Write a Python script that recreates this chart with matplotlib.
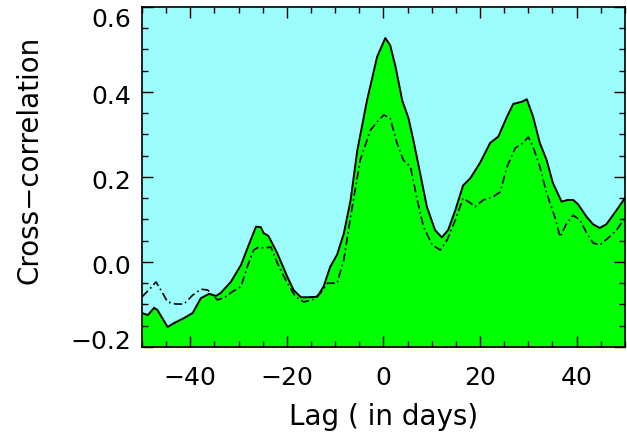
import numpy as np
import matplotlib
matplotlib.use("Agg")
import matplotlib.pyplot as plt
from matplotlib.ticker import MultipleLocator
from matplotlib.transforms import ScaledTranslation

# lag (days) and cross-correlation
lag_solid = [-50, -48.8, -47.5, -46.8, -44.7, -43.4, -41.3, -39.5, -37.8, -36.1, -34.7, -33.7,
             -31.6, -29.5, -27.9, -26.4, -25.4, -24.8, -23.8, -22.0, -19.9, -18.6, -17.1, -15.8,
             -13.7, -12.4, -11.0, -9.6, -8.2, -6.8, -5.4, -3.4, -1.3, 0.4, 1.4, 2.5, 3.9, 5.2,
             6.2, 7.6, 9.0, 10.7, 12.1, 13.4, 14.9, 16.5, 18.0, 20.0, 22.1, 23.8, 25.6, 26.9,
             28.7, 29.7, 31.0, 32.4, 33.8, 35.1, 36.9, 38.2, 39.3, 40.3, 42.1, 43.4, 44.8,
             46.2, 48.3, 50]
cc_solid = [-0.12, -0.125, -0.108, -0.113, -0.153, -0.144, -0.132, -0.12, -0.085, -0.075, -0.08,
            -0.073, -0.047, -0.007, 0.04, 0.083, 0.082, 0.068, 0.061, 0.021, -0.035, -0.066,
            -0.083, -0.083, -0.082, -0.058, -0.011, 0.017, 0.067, 0.145, 0.263, 0.38, 0.483,
            0.527, 0.51, 0.46, 0.38, 0.338, 0.287, 0.209, 0.13, 0.075, 0.058, 0.075, 0.122,
            0.18, 0.197, 0.233, 0.28, 0.295, 0.342, 0.372, 0.377, 0.383, 0.342, 0.28, 0.24,
            0.186, 0.142, 0.146, 0.146, 0.136, 0.106, 0.089, 0.08, 0.089, 0.122, 0.15]

lag_dash = [-50, -48.6, -47.1, -46.1, -44.7, -43.0, -41.3, -39.5, -37.8, -36.4, -34.4, -33.1,
            -31.3, -29.5, -28.2, -26.9, -25.8, -24.8, -23.3, -22.0, -19.9, -18.2, -16.5, -14.7,
            -13.0, -11.6, -9.6, -8.2, -6.8, -4.8, -2.7, -1.0, 0.1, 1.4, 2.8, 4.1, 5.6, 7.0,
            8.3, 10.1, 11.8, 13.2, 14.9, 16.5, 18.0, 19.0, 20.7, 22.7, 24.2, 25.6, 27.3, 28.9,
            30.0, 31.0, 32.4, 33.8, 35.5, 36.6, 38.0, 39.3, 40.7, 42.1, 43.4, 44.8, 46.5,
            48.3, 50]
cc_dash = [-0.082, -0.066, -0.047, -0.066, -0.094, -0.099, -0.099, -0.078, -0.064, -0.066,
           -0.089, -0.085, -0.07, -0.058, -0.011, 0.028, 0.035, 0.033, 0.035, -0.002, -0.05,
           -0.082, -0.094, -0.089, -0.073, -0.05, -0.05, 0.005, 0.106, 0.24, 0.31, 0.334,
           0.346, 0.338, 0.28, 0.24, 0.224, 0.146, 0.083, 0.04, 0.028, 0.052, 0.099, 0.15,
           0.139, 0.13, 0.146, 0.153, 0.165, 0.224, 0.268, 0.28, 0.294, 0.271, 0.224, 0.162,
           0.106, 0.059, 0.092, 0.11, 0.099, 0.068, 0.045, 0.04, 0.056, 0.075, 0.104]

plt.rcParams['font.family'] = ['DejaVu Sans']

fig = plt.figure(figsize=(6.27, 4.37), dpi=100)
ax = fig.add_axes([0.2265, 0.206, 0.770, 0.778])
ax.set_facecolor('#9cfcfc')

ax.fill_between(lag_solid, cc_solid, -0.3, color='#00ff00', lw=0)
ax.plot(lag_solid, cc_solid, color='black', lw=1.4)
ax.plot(lag_dash, cc_dash, color='black', lw=1.2, ls=(0, (5, 2, 1, 2)))

ax.set_xlim(-50, 50)
ax.set_ylim(-0.2, 0.6)
ax.xaxis.set_major_locator(MultipleLocator(20))
ax.xaxis.set_minor_locator(MultipleLocator(5))
ax.yaxis.set_major_locator(MultipleLocator(0.2))
ax.yaxis.set_minor_locator(MultipleLocator(0.05))
ax.tick_params(which='both', direction='in', top=True, right=True, labelsize=18, width=1)
ax.tick_params(which='major', length=8)
ax.tick_params(which='minor', length=4)
ax.tick_params(axis='x', which='major', pad=14)
ax.tick_params(axis='y', which='major', pad=8)
ax.xaxis.set_major_formatter(plt.FuncFormatter(lambda v, p: f"{v:.0f}".replace('-', '\u2212')))
ax.yaxis.set_major_formatter(plt.FuncFormatter(lambda v, p: f"{v:.1f}".replace('-', '\u2212')))
for s in ax.spines.values():
    s.set_linewidth(1.2)

ax.set_xlabel('Lag ( in days)', fontsize=20)
ax.set_ylabel('Cross\u2212correlation', fontsize=20)
ax.xaxis.set_label_coords(0.5, -0.165)
ax.yaxis.set_label_coords(-0.205, 0.55)

# IDL-style: end labels pulled inside the axis range, others sit a little low
fig.canvas.draw()
for lab in ax.get_yticklabels():
    y = lab.get_position()[1]
    if y > 0.59:
        dy = -11
    elif y < -0.19:
        dy = 7
    else:
        dy = -3
    lab.set_transform(lab.get_transform() + ScaledTranslation(0, dy / 100, fig.dpi_scale_trans))

fig.savefig('out.png', dpi=100)
